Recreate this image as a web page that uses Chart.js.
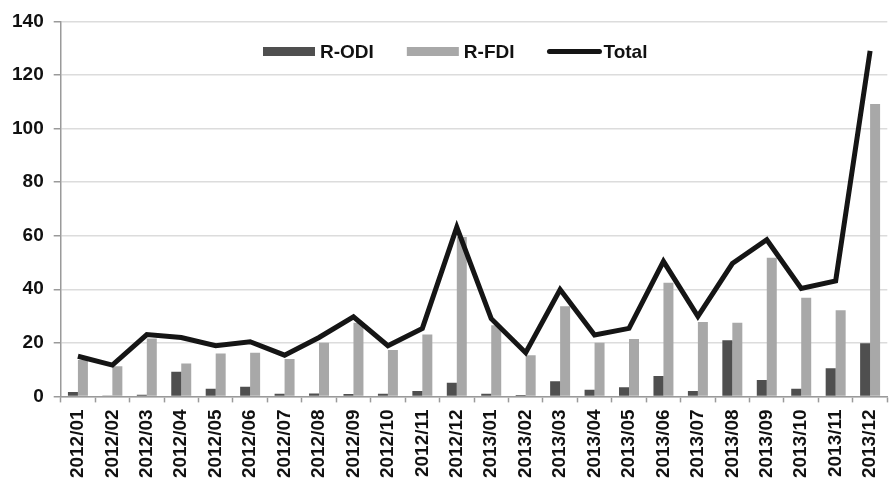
<!DOCTYPE html>
<html>
<head>
<meta charset="utf-8">
<script src="https://cdn.jsdelivr.net/npm/chart.js@4"></script>
<style>
  html, body { margin: 0; padding: 0; background: #fff; overflow: hidden; }
  #wrap { width: 900px; height: 484px; }
</style>
</head>
<body>
<div id="wrap"><canvas id="c" width="900" height="484"></canvas></div>
<script>
const categories = ['2012/01','2012/02','2012/03','2012/04','2012/05','2012/06','2012/07','2012/08','2012/09','2012/10','2012/11','2012/12',
                    '2013/01','2013/02','2013/03','2013/04','2013/05','2013/06','2013/07','2013/08','2013/09','2013/10','2013/11','2013/12'];
const rODI  = [1.6, 0.3, 0.6, 9.2, 2.9, 3.6, 1.0, 1.1, 0.9, 1.0, 2.0, 5.1, 1.0, 0.5, 5.7, 2.5, 3.4, 7.6, 2.0, 21.0, 6.1, 2.9, 10.5, 19.8];
const rFDI  = [13.6, 11.3, 21.6, 12.3, 16.0, 16.3, 14.0, 20.0, 27.5, 17.3, 23.1, 59.5, 26.6, 15.4, 33.7, 20.0, 21.4, 42.4, 27.8, 27.5, 51.8, 36.8, 32.2, 109.2];
const total = [15.0, 11.7, 23.1, 22.0, 18.9, 20.4, 15.4, 22.0, 29.7, 18.9, 25.4, 63.2, 29.0, 16.3, 39.9, 22.9, 25.4, 50.4, 29.9, 49.6, 58.5, 40.3, 43.1, 129.0];
const yTicks = [0, 20, 40, 60, 80, 100, 120, 140];

const FONT = "'Liberation Sans', Arial, sans-serif";

const legendPlugin = {
  id: 'customLegend',
  afterDraw(chart) {
    const ctx = chart.ctx;
    ctx.save();
    ctx.font = 'bold 19px ' + FONT;
    ctx.textBaseline = 'middle';
    ctx.fillStyle = '#111';
    let x = 263;
    const yc = 51.5;
    chart.data.datasets.forEach(ds => {
      if (ds.type === 'line') {
        ctx.strokeStyle = ds.borderColor;
        ctx.lineWidth = 5;
        ctx.lineCap = 'round';
        ctx.beginPath();
        ctx.moveTo(x + 2, yc);
        ctx.lineTo(x + 52, yc);
        ctx.stroke();
        x += 56;
      } else {
        ctx.fillStyle = ds.backgroundColor;
        ctx.fillRect(x, yc - 4.5, 52, 9);
        x += 57;
      }
      ctx.fillStyle = '#111';
      ctx.textAlign = 'left';
      ctx.fillText(ds.label, x, yc + 1);
      x += ctx.measureText(ds.label).width + 33;
    });
    ctx.restore();
  }
};

new Chart(document.getElementById('c'), {
  data: {
    labels: categories,
    datasets: [
      { type: 'bar', label: 'R-ODI', data: rODI, backgroundColor: '#4f4f4f', order: 1,
        categoryPercentage: 0.58, barPercentage: 1.0 },
      { type: 'bar', label: 'R-FDI', data: rFDI, backgroundColor: '#a8a8a8', order: 1,
        categoryPercentage: 0.58, barPercentage: 1.0 },
      { type: 'line', label: 'Total', data: total, borderColor: '#151515', borderWidth: 5,
        pointRadius: 0, tension: 0, fill: false, order: 0, borderJoinStyle: 'miter' }
    ]
  },
  options: {
    responsive: false,
    animation: false,
    devicePixelRatio: 1,
    layout: { padding: { top: 20.5, right: 4.6, left: 0, bottom: 0 } },
    plugins: { legend: { display: false }, tooltip: { enabled: false } },
    scales: {
      x: {
        offset: true,
        grid: { display: true, drawOnChartArea: false, drawTicks: true, tickLength: 6, tickColor: '#9a9a9a', offset: true, tickWidth: 1.5 },
        border: { color: '#9a9a9a', width: 1.5 },
        ticks: { autoSkip: false, maxRotation: 90, minRotation: 90, padding: 7,
                 font: { family: FONT, size: 19, weight: 'bold' }, color: '#111' },
        afterFit: (s) => { s.height = 87.6; }
      },
      y: {
        min: 0, max: 140,
        afterBuildTicks: (s) => { s.ticks = yTicks.map(v => ({ value: v })); },
        grid: { color: '#dcdcdc', lineWidth: 1.5, tickLength: 7, tickColor: '#9a9a9a', tickWidth: 1.5 },
        border: { color: '#9a9a9a', width: 1.5 },
        ticks: { padding: 10, font: { family: FONT, size: 19, weight: 'bold' }, color: '#111' },
        afterFit: (s) => { s.width = 60.7; }
      }
    }
  },
  plugins: [legendPlugin]
});
</script>
</body>
</html>
